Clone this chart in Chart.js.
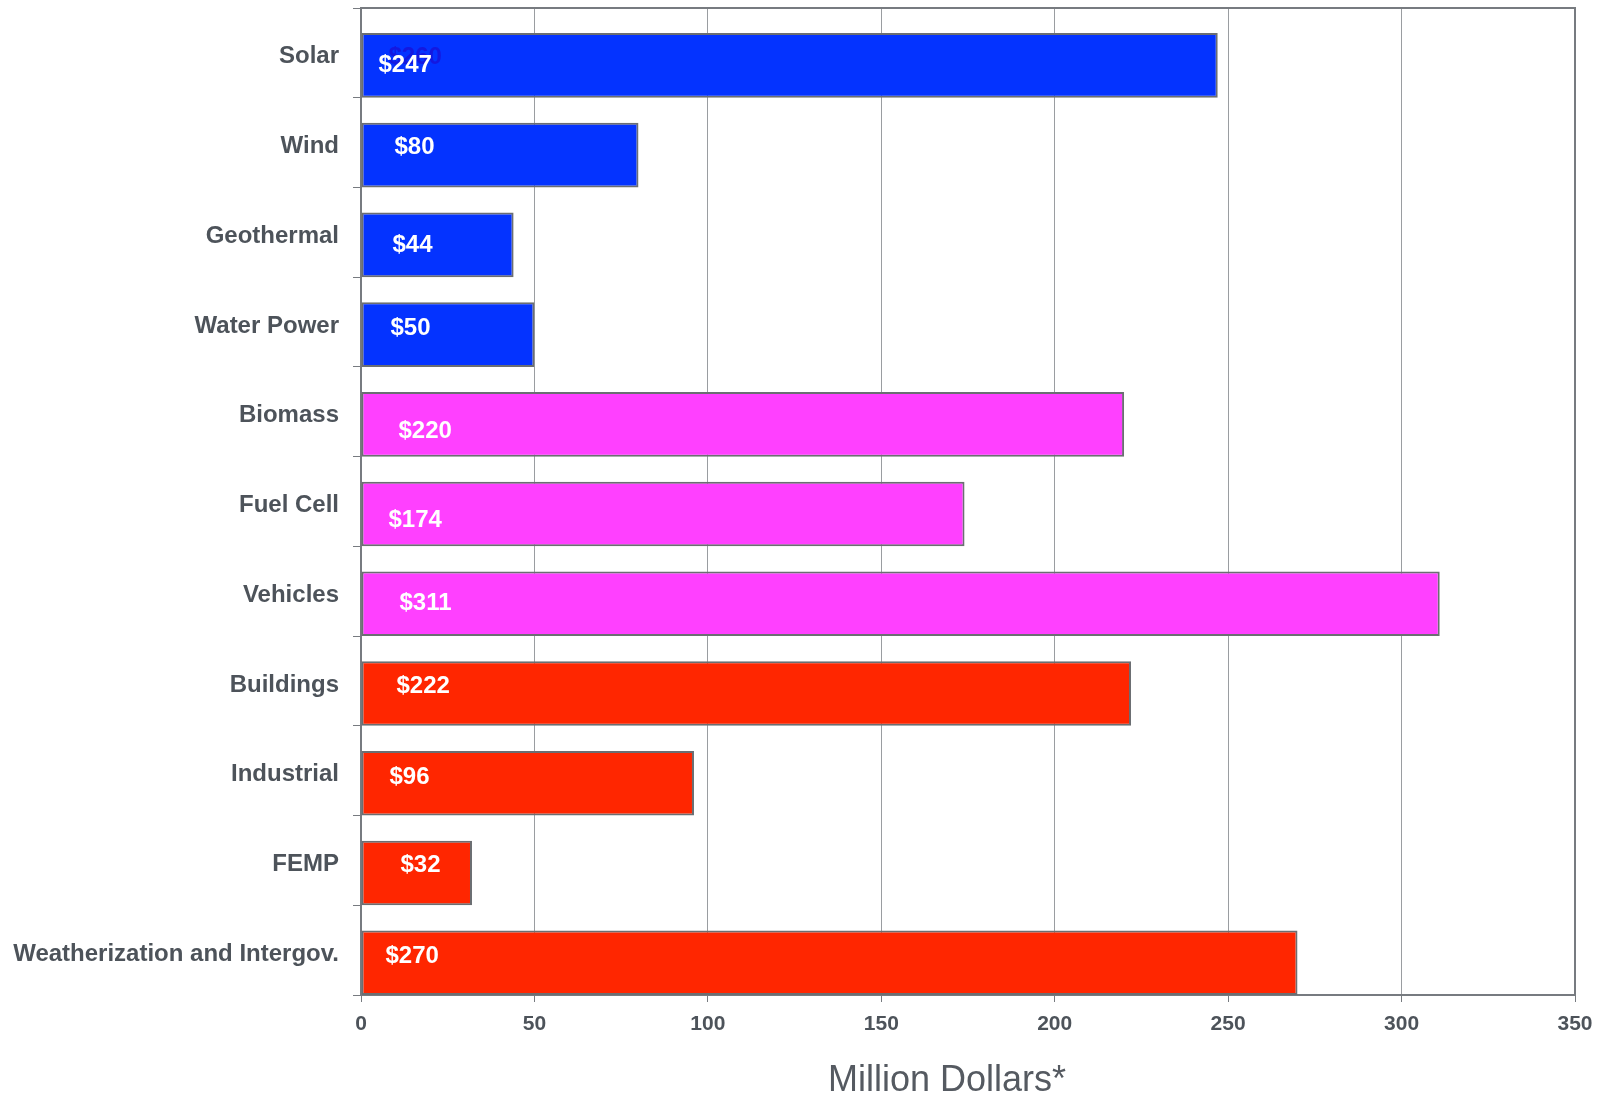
<!DOCTYPE html>
<html>
<head>
<meta charset="utf-8">
<script src="https://cdn.jsdelivr.net/npm/chart.js@4.4.1/dist/chart.umd.min.js"></script>
<style>
  html, body { margin: 0; padding: 0; background: #fff; }
  #wrap { width: 1601px; height: 1094px; }
</style>
</head>
<body>
<div id="wrap"><canvas id="chart" width="1601" height="1094"></canvas></div>
<script>
const categories = [
  "Solar",
  "Wind",
  "Geothermal",
  "Water Power",
  "Biomass",
  "Fuel Cell",
  "Vehicles",
  "Buildings",
  "Industrial",
  "FEMP",
  "Weatherization and Intergov.",
]
const funding = [247, 80, 44, 50, 220, 174, 311, 222, 96, 32, 270]
const groupColors = ["#0433ff", "#0433ff", "#0433ff", "#0433ff",
  "#ff40ff", "#ff40ff", "#ff40ff",
  "#ff2600", "#ff2600", "#ff2600", "#ff2600"]
const xMin = 0
const xMax = 350
const xStep = 50
const axisTitle = "Million Dollars*"
// stray label left behind the Solar value in the original slide
const ghostLabel = { index: 0, text: "$260" }

// value labels were placed by hand in the slide, so they wander a bit
const labelDx = [17, 33, 31, 29, 37, 27, 38, 35, 28, 39, 24]
const labelDy = [0, -8, 0, -6, 7, 6, 0, -7, -6, -8, -6]

const FONT = "'Liberation Sans', Arial, Helvetica, sans-serif"
const barPct = 0.72

// bars sit on the lower edge of each band, labels stay centred
const shiftBars = {
  id: "shiftBars",
  beforeDatasetsDraw(chart) {
    const y = chart.scales.y
    const band = y.getPixelForValue(1) - y.getPixelForValue(0)
    chart.$shift = band * (1 - barPct) / 2
    chart.ctx.save()
    chart.ctx.translate(0, chart.$shift)
  },
  afterDatasetsDraw(chart) {
    const ctx = chart.ctx
    const bars = chart.getDatasetMeta(0).data
    ctx.font = "bold 24px " + FONT
    ctx.textBaseline = "middle"
    ctx.textAlign = "left"

    const g = bars[ghostLabel.index]
    ctx.fillStyle = "#1418e0"
    ctx.fillText(ghostLabel.text, g.base + 27, g.y - 8)

    ctx.fillStyle = "#ffffff"
    bars.forEach((bar, i) => {
      ctx.fillText("$" + funding[i], bar.base + labelDx[i], bar.y + labelDy[i])
    })
    ctx.restore()
  },
}

const frame = {
  id: "frame",
  afterDraw(chart) {
    const { ctx, chartArea: a } = chart
    ctx.save()
    ctx.strokeStyle = "#777b80"
    ctx.lineWidth = 2
    ctx.beginPath()
    ctx.moveTo(a.left, a.top)
    ctx.lineTo(a.right, a.top)
    ctx.lineTo(a.right, a.bottom)
    ctx.stroke()

    const x = chart.scales.x
    ctx.font = "36px " + FONT
    ctx.fillStyle = "#555a61"
    ctx.textAlign = "center"
    ctx.textBaseline = "alphabetic"
    ctx.fillText(axisTitle, (x.left + x.right) / 2 - 21, x.top + 96)
    ctx.restore()
  },
}

new Chart(document.getElementById("chart"), {
  type: "bar",
  data: {
    labels: categories,
    datasets: [
      {
        data: funding,
        backgroundColor: groupColors,
        borderColor: "#6b6e72",
        borderWidth: 2,
        borderSkipped: false,
        categoryPercentage: 1,
        barPercentage: barPct,
      },
    ],
  },
  options: {
    indexAxis: "y",
    responsive: false,
    animation: false,
    layout: { padding: { top: 8, right: 26, left: 0, bottom: 0 } },
    plugins: {
      legend: { display: false },
      tooltip: { enabled: false },
    },
    scales: {
      x: {
        min: xMin,
        max: xMax,
        ticks: {
          stepSize: xStep,
          color: "#4d535a",
          font: { family: FONT, size: 21, weight: "bold" },
          padding: 10,
        },
        grid: {
          color: "#9a9da1",
          lineWidth: 1,
          tickLength: 7,
          tickColor: "#777b80",
        },
        border: { color: "#777b80", width: 2 },
        afterFit(scale) {
          scale.height = 99
          scale.paddingLeft = 0
          scale.paddingRight = 0
        },
      },
      y: {
        ticks: {
          color: "#4d535a",
          font: { family: FONT, size: 24, weight: "bold" },
          padding: 14,
          labelOffset: 4,
        },
        grid: {
          drawOnChartArea: false,
          offset: true,
          tickLength: 8,
          tickColor: "#777b80",
        },
        border: { color: "#777b80", width: 2 },
        afterFit(scale) {
          scale.width = 361
          scale.paddingTop = 0
          scale.paddingBottom = 0
        },
      },
    },
  },
  plugins: [shiftBars, frame],
})
</script>
</body>
</html>
